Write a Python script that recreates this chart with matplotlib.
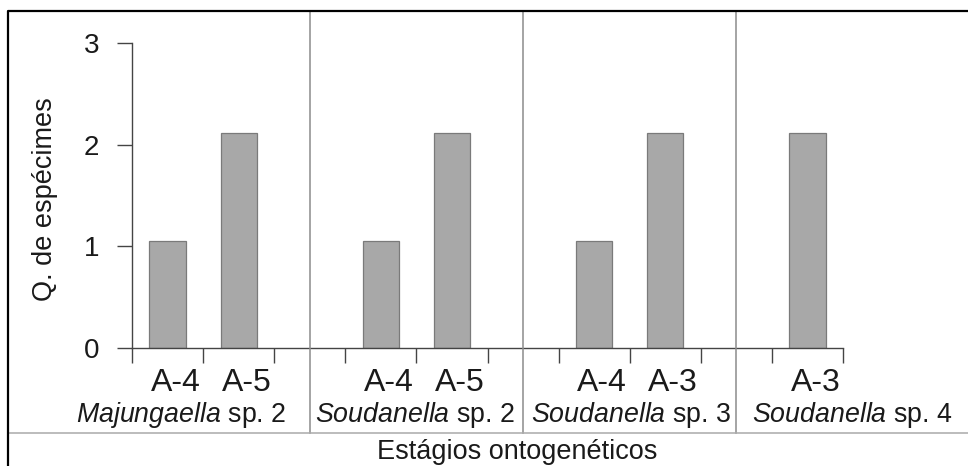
import matplotlib
matplotlib.use('Agg')
import matplotlib.pyplot as plt
import matplotlib.transforms as mtransforms
from matplotlib.lines import Line2D

# ----- data -----
species = ['Majungaella', 'Soudanella', 'Soudanella', 'Soudanella']
species_sp = ['sp. 2', 'sp. 2', 'sp. 3', 'sp. 4']
stages = [['A-4', 'A-5'], ['A-4', 'A-5'], ['A-4', 'A-3'], ['A-3']]
counts = [[1.05, 2.11], [1.05, 2.11], [1.05, 2.11], [2.11]]
y_ticks = [0, 1, 2, 3]

plt.rcParams['font.family'] = 'Liberation Sans'
plt.rcParams['mathtext.fontset'] = 'custom'
plt.rcParams['mathtext.rm'] = 'Liberation Sans'
plt.rcParams['mathtext.it'] = 'Liberation Sans:italic'

# slot layout: one slot per bar, one empty slot between groups (group 4 has the gap before it)
positions, labels, values, separators = [], [], [], []
pos = 0
for g in range(len(species)):
    if g == len(species) - 1:
        separators.append(pos)
        pos += 1
    for st, v in zip(stages[g], counts[g]):
        positions.append(pos)
        labels.append(st)
        values.append(v)
        pos += 1
    if g < len(species) - 2:
        separators.append(pos)
        pos += 1

fig = plt.figure(figsize=(9.68, 4.66), dpi=100)
ax = fig.add_axes([132 / 968, 1 - 348 / 466, 711 / 968, 305 / 466])

ax.bar(positions, values, width=0.51, color='#a8a8a8', edgecolor='#7a7a7a', linewidth=0.9, zorder=2)

ax.set_xlim(-0.5, pos - 0.5)
ax.set_ylim(0, 3)
ax.set_yticks(y_ticks)
ax.set_xticks([p - 0.5 for p in range(pos + 1)])
ax.set_xticklabels([])
for s in ['top', 'right']:
    ax.spines[s].set_visible(False)
for s in ['left', 'bottom']:
    ax.spines[s].set_color('#444444')
    ax.spines[s].set_linewidth(1.0)
ax.tick_params(direction='out', length=10.8, width=1.0, color='#444444')
ax.tick_params(axis='y', labelsize=20, pad=13, labelcolor='#1a1a1a')

# stage labels under bars
xfig = mtransforms.blended_transform_factory(ax.transData, fig.transFigure)
shift = mtransforms.ScaledTranslation(8 / 100, 0, fig.dpi_scale_trans)
for p, lab in zip(positions, labels):
    fig.text(p, 1 - 383 / 466, lab, transform=xfig + shift, ha='center', va='center',
             fontsize=23, color='#1a1a1a')

# species labels
species_x = [0.19, 3.48, 6.52, 9.63]
for x, name, sp in zip(species_x, species, species_sp):
    fig.text(x, 1 - 415 / 466, r'$\mathit{' + name + '}$ ' + sp, transform=xfig,
             ha='center', va='center', fontsize=19.3, color='#1a1a1a')

# group separators
for s in separators:
    fig.add_artist(Line2D([s, s], [1 - 11 / 466, 1 - 433 / 466], transform=xfig,
                          color='#8c8c8c', linewidth=1.1))

# bottom rule, frame
fig.add_artist(Line2D([8 / 968, 1], [1 - 433 / 466, 1 - 433 / 466], transform=fig.transFigure,
                      color='#aaaaaa', linewidth=1.1))
fig.add_artist(Line2D([8 / 968, 8 / 968, 1], [0, 1 - 11 / 466, 1 - 11 / 466],
                      transform=fig.transFigure, color='black', linewidth=1.6))

fig.text(45 / 968, 1 - 199 / 466, 'Q. de espécimes', rotation=90, ha='center', va='center',
         fontsize=19.5, color='#1a1a1a')
fig.text(517 / 968, 1 - 452 / 466, 'Estágios ontogenéticos', ha='center', va='center',
         fontsize=19.5, color='#1a1a1a')

fig.savefig('out.png', dpi=100)
